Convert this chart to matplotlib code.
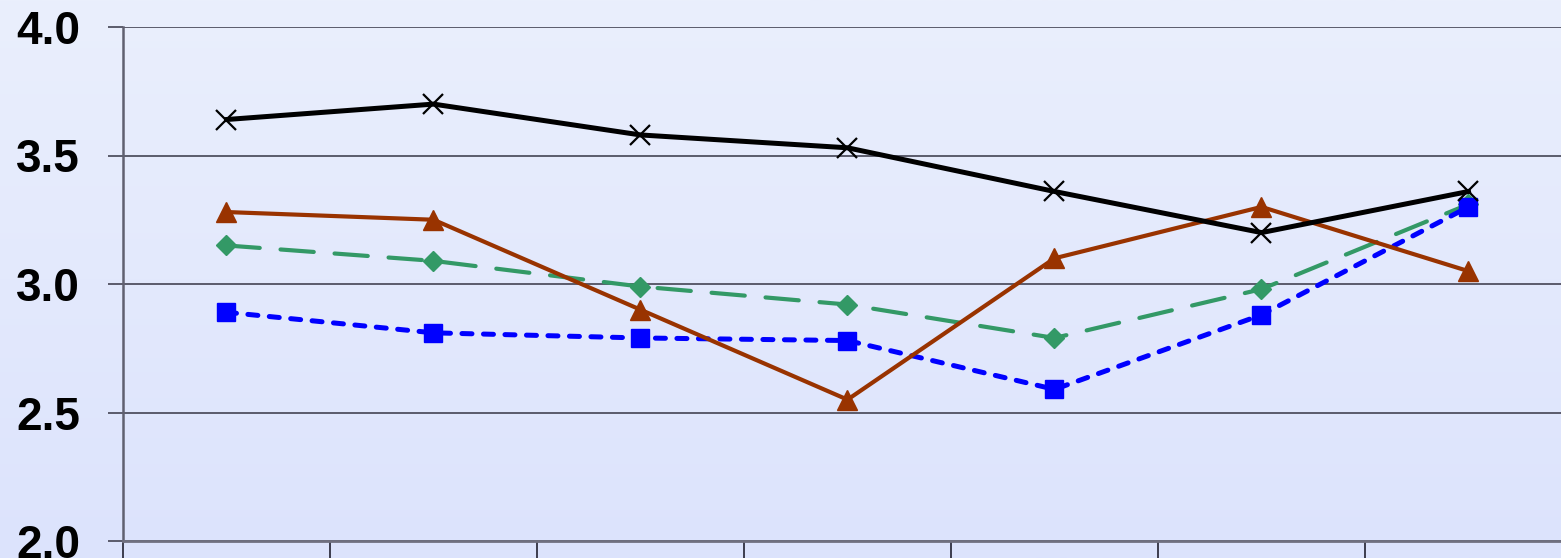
import matplotlib.pyplot as plt
import numpy as np

plt.rcParams['font.family'] = ['Liberation Sans', 'DejaVu Sans']

# Seven periods along the x axis, four series
periods = ['1', '2', '3', '4', '5', '6', '7']
series_black = [3.64, 3.70, 3.58, 3.53, 3.36, 3.20, 3.36]
series_brown = [3.28, 3.25, 2.90, 2.55, 3.10, 3.30, 3.05]
series_green = [3.15, 3.09, 2.99, 2.92, 2.79, 2.98, 3.31]
series_blue = [2.89, 2.81, 2.79, 2.78, 2.59, 2.88, 3.30]
y_ticks = [2.0, 2.5, 3.0, 3.5, 4.0]

fig = plt.figure(figsize=(15.61, 5.58), dpi=100)

# soft vertical gradient behind everything
bg = fig.add_axes([0, 0, 1, 1], zorder=-10)
grad = np.linspace(0, 1, 256).reshape(-1, 1)
top = np.array([234, 239, 252]) / 255
bot = np.array([220, 227, 253]) / 255
img = top * (1 - grad[..., None]) + bot * grad[..., None]
bg.imshow(img, aspect='auto', extent=[0, 1, 0, 1])
bg.axis('off')

ax = fig.add_axes([123 / 1561, 17 / 558, 1449 / 1561, 514 / 558])
ax.patch.set_alpha(0)

x = np.arange(len(periods))

ax.plot(x, series_green, color='#339966', lw=3.0, ls=(0, (8, 5)),
        dash_capstyle='round', marker='D', ms=10, zorder=3)
ax.plot(x, series_blue, color='#0000FF', lw=3.6, ls=(0, (2.0, 2.3)),
        dash_capstyle='round', marker='s', ms=12.5, zorder=4)
ax.plot(x, series_brown, color='#993300', lw=3.0, marker='^', ms=14, zorder=5)
ax.plot(x, series_black, color='black', lw=3.6, marker='x', ms=14,
        mew=1.6, zorder=6)

ax.set_xlim(-0.5, len(periods) - 0.5)
ax.set_ylim(2.0, 4.0)
ax.set_yticks(y_ticks)
ax.set_yticklabels([f'{v:.1f}' for v in y_ticks], fontsize=33,
                   fontweight='bold')
ax.set_xticks(np.arange(len(periods) + 1) - 0.5)
ax.set_xticklabels([])

ax.grid(axis='y', color='#505060', lw=1.3)
ax.set_axisbelow(True)
ax.tick_params(axis='y', length=11, width=1.3, color='#505060', pad=20)
ax.tick_params(axis='x', length=20, width=1.3, color='#303040')

for side in ['top', 'right']:
    ax.spines[side].set_visible(False)
ax.spines['left'].set_color('#606070')
ax.spines['left'].set_linewidth(1.8)
ax.spines['bottom'].set_color('#707080')
ax.spines['bottom'].set_linewidth(2)

fig.savefig('out.png', dpi=100)
